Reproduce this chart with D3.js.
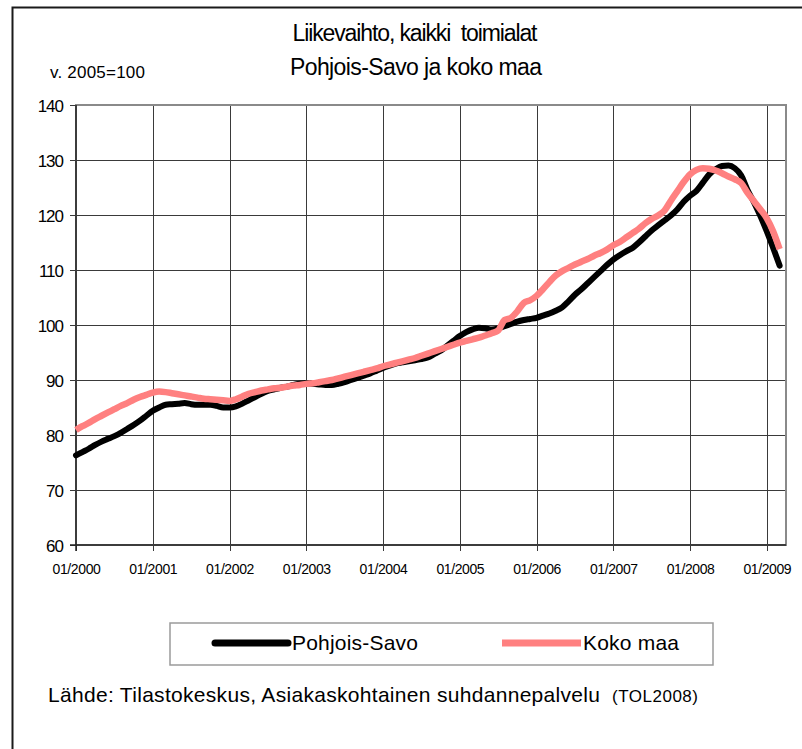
<!DOCTYPE html>
<html>
<head>
<meta charset="utf-8">
<script src="https://cdn.jsdelivr.net/npm/d3@7"></script>
<style>
  body { margin: 0; background: #fff; }
  text { font-family: "Liberation Sans", Arial, Helvetica, sans-serif; fill: #000; }
</style>
</head>
<body>
<svg id="chart" width="802" height="749"></svg>
<script>
// tick labels (one per January)
var tickLabels = ["01/2000", "01/2001", "01/2002", "01/2003", "01/2004",
	"01/2005", "01/2006", "01/2007", "01/2008", "01/2009"];
var yTicks = [60, 70, 80, 90, 100, 110, 120, 130, 140];
var seriesNames = ["Pohjois-Savo", "Koko maa"];

// monthly index values, 01/2000 .. 03/2009 (v. 2005=100)
var pohjoisSavo = [
	76.3, 76.9, 77.5, 78.2, 78.8, 79.3, 79.8, 80.4, 81.1, 81.8, 82.6, 83.5,
	84.4, 85.0, 85.5, 85.6, 85.7, 85.8, 85.6, 85.5, 85.5, 85.5, 85.3, 85.0,
	85.0, 85.2, 85.7, 86.3, 86.9, 87.5, 88.0, 88.3, 88.6, 88.8, 89.1, 89.3,
	89.4, 89.3, 89.2, 89.1, 89.1, 89.3, 89.6, 90.0, 90.4, 90.8, 91.2, 91.7,
	92.2, 92.6, 93.0, 93.2, 93.4, 93.6, 93.8, 94.1, 94.7, 95.3, 96.2, 97.1,
	98.0, 98.7, 99.2, 99.5, 99.4, 99.2, 99.4, 99.8, 100.2, 100.6, 100.9, 101.1,
	101.3, 101.7, 102.1, 102.6, 103.2, 104.3, 105.5, 106.5, 107.6, 108.7, 109.8, 110.9,
	111.9, 112.7, 113.4, 114.0, 115.0, 116.1, 117.2, 118.1, 119.0, 119.9, 121.0, 122.4,
	123.5, 124.4, 125.9, 127.4, 128.3, 128.9, 129.0, 128.5, 127.2, 124.5, 122.3, 119.8,
	117.0, 114.0, 110.8
];
var kokoMaa = [
	80.9, 81.6, 82.2, 82.9, 83.5, 84.1, 84.7, 85.3, 85.8, 86.4, 86.9, 87.3,
	87.7, 87.9, 87.8, 87.6, 87.4, 87.2, 87.0, 86.8, 86.6, 86.5, 86.4, 86.3,
	86.2, 86.5, 87.0, 87.5, 87.8, 88.1, 88.3, 88.5, 88.6, 88.8, 89.0, 89.1,
	89.3, 89.4, 89.6, 89.8, 90.0, 90.3, 90.6, 90.9, 91.2, 91.5, 91.8, 92.1,
	92.5, 92.8, 93.1, 93.4, 93.7, 94.0, 94.4, 94.8, 95.2, 95.6, 96.0, 96.4,
	96.8, 97.1, 97.4, 97.7, 98.1, 98.5, 99.0, 100.9, 101.3, 102.5, 104.0, 104.5,
	105.3, 106.5, 107.8, 109.0, 109.8, 110.4, 111.0, 111.5, 112.0, 112.6, 113.1, 113.7,
	114.5, 115.1, 115.9, 116.7, 117.5, 118.5, 119.3, 119.9, 120.8, 122.6, 124.3, 126.0,
	127.4, 128.2, 128.5, 128.4, 128.1, 127.6, 127.0, 126.5, 125.8, 124.0, 122.5, 121.0,
	119.4, 117.0, 113.8
];

(function() {

	var colors = { "Pohjois-Savo": "#000000", "Koko maa": "#ff8080" };

	var svg = d3.select("#chart");

	// outer chart frame (only left and top edges are in view)
	svg.append("rect")
		.attr("x", 12.5).attr("y", 7.5)
		.attr("width", 900).attr("height", 900)
		.style("fill", "none")
		.style("stroke", "#1a1a1a")
		.style("stroke-width", 2);

	var m = { left: 76, right: 786, top: 105, bottom: 545 };

	var x = d3.scaleLinear()
		.domain([0, 111])
		.range([m.left, m.right]);

	var y = d3.scaleLinear()
		.domain([60, 140])
		.range([m.bottom, m.top]);

	// titles
	svg.append("text")
		.attr("x", 415).attr("y", 41)
		.attr("text-anchor", "middle")
		.attr("textLength", 245).attr("lengthAdjust", "spacing")
		.attr("xml:space", "preserve")
		.style("white-space", "pre")
		.style("font-size", "23px")
		.text("Liikevaihto, kaikki  toimialat");

	svg.append("text")
		.attr("x", 416).attr("y", 75)
		.attr("text-anchor", "middle")
		.attr("textLength", 252).attr("lengthAdjust", "spacing")
		.style("font-size", "23px")
		.text("Pohjois-Savo ja koko maa");

	svg.append("text")
		.attr("x", 50).attr("y", 78)
		.attr("textLength", 95).attr("lengthAdjust", "spacing")
		.style("font-size", "17px")
		.text("v. 2005=100");

	// horizontal gridlines + y ticks
	var yAxis = d3.axisLeft(y)
		.tickValues(yTicks)
		.tickSize(-(m.right - m.left + 6))
		.tickPadding(8)
		.tickFormat(d3.format("d"));

	var gy = svg.append("g")
		.attr("class", "y axis")
		.attr("transform", "translate(" + (m.left - 6) + ",0)")
		.call(yAxis);

	gy.select(".domain").remove();
	gy.selectAll("line")
		.style("stroke", "#3a3a3a")
		.style("stroke-width", 1)
		.style("shape-rendering", "crispEdges");
	gy.selectAll("text")
		.attr("x", -7)
		.attr("dy", "0.36em")
		.style("font-size", "17px")
		.style("letter-spacing", "-1px")
		.style("font-family", "Liberation Sans, Arial");

	// vertical gridlines + x ticks
	var xAxis = d3.axisBottom(x)
		.tickValues(d3.range(0, 109, 12))
		.tickSize(-(m.bottom - m.top))
		.tickFormat(function(d, i) { return tickLabels[i]; });

	var gx = svg.append("g")
		.attr("class", "x axis")
		.attr("transform", "translate(0," + m.bottom + ")")
		.call(xAxis);

	gx.select(".domain").remove();
	gx.selectAll("line")
		.attr("y2", -(m.bottom - m.top))
		.attr("y1", 6)
		.style("stroke", "#3a3a3a")
		.style("stroke-width", 1)
		.style("shape-rendering", "crispEdges");
	gx.selectAll("text")
		.attr("y", 24)
		.attr("dy", "0.36em")
		.style("font-size", "14px")
		.style("letter-spacing", "-0.4px")
		.style("font-family", "Liberation Sans, Arial");

	// plot area border (grey) and the two axis lines
	svg.append("rect")
		.attr("x", m.left).attr("y", m.top)
		.attr("width", m.right - m.left).attr("height", m.bottom - m.top)
		.style("fill", "none")
		.style("stroke", "#8a8a8a")
		.style("stroke-width", 2);

	svg.append("line")
		.attr("x1", m.left).attr("x2", m.left)
		.attr("y1", m.top).attr("y2", m.bottom + 6)
		.style("stroke", "#222").style("stroke-width", 1.5);
	svg.append("line")
		.attr("x1", m.left - 6).attr("x2", m.right)
		.attr("y1", m.bottom).attr("y2", m.bottom)
		.style("stroke", "#222").style("stroke-width", 1.5);

	// lines
	var line = d3.line()
		.x(function(d, i) { return x(i); })
		.y(function(d) { return y(d); })
		.curve(d3.curveMonotoneX);

	svg.append("path")
		.attr("class", "line savo")
		.attr("d", line(pohjoisSavo))
		.style("fill", "none")
		.style("stroke", colors["Pohjois-Savo"])
		.style("stroke-width", 6)
		.style("stroke-linecap", "round")
		.style("stroke-linejoin", "round");

	svg.append("path")
		.attr("class", "line koko")
		.attr("d", line(kokoMaa))
		.style("fill", "none")
		.style("stroke", colors["Koko maa"])
		.style("stroke-width", 6.5)
		.style("stroke-linejoin", "round");

	// legend
	var legend = svg.append("g").attr("class", "legend");

	legend.append("rect")
		.attr("x", 170).attr("y", 623)
		.attr("width", 543).attr("height", 42)
		.style("fill", "#fff")
		.style("stroke", "#9a9a9a")
		.style("stroke-width", 1.5);

	var legendItems = [
		{ name: seriesNames[0], x1: 215, x2: 288, tx: 292, tw: 126, cap: "round" },
		{ name: seriesNames[1], x1: 502, x2: 581, tx: 583, tw: 96, cap: "butt" }
	];

	legend.selectAll("line.key")
		.data(legendItems)
		.enter().append("line")
		.attr("class", "key")
		.attr("x1", function(d) { return d.x1; })
		.attr("x2", function(d) { return d.x2; })
		.attr("y1", 643).attr("y2", 643)
		.style("stroke", function(d) { return colors[d.name]; })
		.style("stroke-width", 7)
		.style("stroke-linecap", function(d) { return d.cap; });

	legend.selectAll("text")
		.data(legendItems)
		.enter().append("text")
		.attr("x", function(d) { return d.tx; })
		.attr("y", 650)
		.attr("textLength", function(d) { return d.tw; })
		.attr("lengthAdjust", "spacing")
		.style("font-size", "21px")
		.text(function(d) { return d.name; });

	// source
	svg.append("text")
		.attr("x", 48).attr("y", 702)
		.attr("textLength", 552).attr("lengthAdjust", "spacing")
		.style("font-size", "21px")
		.text("Lähde: Tilastokeskus, Asiakaskohtainen suhdannepalvelu");

	svg.append("text")
		.attr("x", 612).attr("y", 702)
		.attr("textLength", 86).attr("lengthAdjust", "spacing")
		.style("font-size", "17px")
		.text("(TOL2008)");

})();
</script>
</body>
</html>
